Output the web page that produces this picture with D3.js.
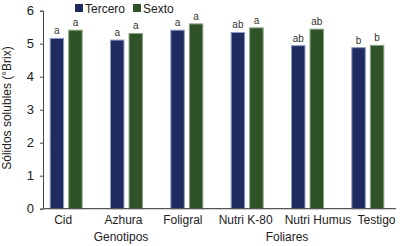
<!DOCTYPE html>
<html>
<head>
    <meta charset='utf-8'>
    <script src='https://cdn.jsdelivr.net/npm/d3@7'></script>
    <style>
        body { margin: 0; background: #fff; }
    </style>
</head>
<body>
    <svg width='400' height='246' font-family="'Liberation Sans', Arial, sans-serif"></svg>
    <script>
        const categories = ['Cid', 'Azhura', 'Foligral', 'Nutri K-80', 'Nutri Humus', 'Testigo']
        const series = ['Tercero', 'Sexto']
        const tercero = [5.16, 5.11, 5.41, 5.34, 4.94, 4.88]
        const sexto = [5.41, 5.31, 5.60, 5.48, 5.44, 4.95]
        const lettersTercero = ['a', 'a', 'a', 'ab', 'ab', 'b']
        const lettersSexto = ['a', 'a', 'a', 'a', 'ab', 'b']
        const yTicks = [0, 1, 2, 3, 4, 5, 6]

        const colors = { Tercero: '#1f2a5e', Sexto: '#2f5228' }
        const edges = { Tercero: '#8e9cc0', Sexto: '#8aa680' }
        // desplazamiento horizontal de las etiquetas del eje x (como en la figura original)
        const labelShift = [-3, -3, -4, -1.5, 10.5, 8.7]

        const svg = d3.select('svg')
        const x = d3.scaleBand().domain(categories).range([36, 398])
        const xs = d3.scaleBand().domain(series).range([x.bandwidth() / 2 - 16.5, x.bandwidth() / 2 + 16.5]).paddingInner(0.22)
        const y = d3.scaleLinear().domain([0, 6]).range([208.7, 10.7])

        // barras
        const rows = categories.map((c, i) => ({ c, vals: [
            { s: 'Tercero', v: tercero[i], l: lettersTercero[i] },
            { s: 'Sexto', v: sexto[i], l: lettersSexto[i] }] }))
        const g = svg.selectAll('g.grp').data(rows).enter().append('g')
            .attr('transform', d => `translate(${x(d.c)},0)`)
        g.selectAll('rect').data(d => d.vals).enter().append('rect')
            .attr('x', d => xs(d.s) + 0.5)
            .attr('y', d => y(d.v))
            .attr('width', xs.bandwidth() - 1)
            .attr('height', d => y(0) - y(d.v))
            .attr('fill', d => colors[d.s])
            .attr('stroke', d => edges[d.s])
            .attr('stroke-width', 1)
        g.selectAll('text').data(d => d.vals).enter().append('text')
            .attr('x', d => xs(d.s) + xs.bandwidth() / 2)
            .attr('y', d => y(d.v) - 4)
            .attr('text-anchor', 'middle')
            .attr('fill', '#333')
            .style('font-size', '10px')
            .text(d => d.l)

        // eje y
        const yAxis = svg.append('g').attr('transform', 'translate(43,0)')
            .call(d3.axisLeft(y).tickValues(yTicks).tickFormat(d3.format('d')).tickSize(3).tickPadding(6))
        yAxis.attr('font-family', null)
        yAxis.select('.domain').attr('stroke', '#444')
        yAxis.selectAll('.tick line').attr('stroke', '#444')
        yAxis.selectAll('text').style('font-size', '13px').attr('fill', '#222')

        // eje x
        svg.append('line').attr('x1', 43).attr('x2', 396).attr('y1', y(0)).attr('y2', y(0))
            .attr('stroke', '#555').attr('stroke-width', 1.2)
        svg.selectAll('text.cat').data(categories).enter().append('text')
            .attr('x', (d, i) => x(d) + x.bandwidth() / 2 + labelShift[i])
            .attr('y', 224)
            .attr('text-anchor', 'middle')
            .attr('fill', '#222')
            .style('font-size', '12px')
            .text(d => d)
        svg.append('text').attr('x', 121).attr('y', 241).attr('text-anchor', 'middle')
            .attr('fill', '#222').style('font-size', '12px').text('Genotipos')
        svg.append('text').attr('x', 287).attr('y', 241).attr('text-anchor', 'middle')
            .attr('fill', '#222').style('font-size', '12px').text('Foliares')

        svg.append('text')
            .attr('transform', 'translate(11,108) rotate(-90)')
            .attr('text-anchor', 'middle')
            .attr('fill', '#222')
            .style('font-size', '12px')
            .text('Sólidos solubles (°Brix)')

        // leyenda
        const leg = svg.selectAll('g.leg').data(series).enter().append('g')
            .attr('transform', (d, i) => `translate(${i === 0 ? 75 : 133},0)`)
        leg.append('rect').attr('x', 0).attr('y', 4).attr('width', 8).attr('height', 8)
            .attr('fill', d => colors[d])
        leg.append('text').attr('x', 10).attr('y', 13).attr('fill', '#222')
            .style('font-size', '12px').text(d => d)
    </script>
</body>
</html>
